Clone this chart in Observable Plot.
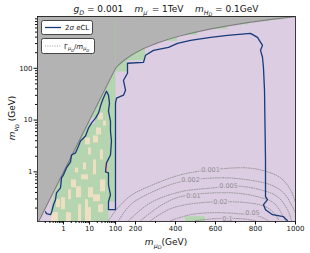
<!DOCTYPE html>
<html>
<head>
<meta charset="utf-8">
<script src="https://cdn.jsdelivr.net/npm/d3@7"></script>
<script src="https://cdn.jsdelivr.net/npm/@observablehq/plot@0.6"></script>
<style>
  html, body { margin: 0; padding: 0; background: #fff; }
  #chart svg { display: block; }
</style>
</head>
<body>
<div id="chart"></div>
<script>
// ---------------- data (GeV) ----------------
const xTickValues = [1, 10, 100, 200, 400, 600, 800, 1000];
const xMinorValues = [0.2,0.3,0.4,0.5,0.6,0.7,0.8,0.9,2,3,4,5,6,7,8,9,20,30,40,50,60,70,80,90,300,500,700,900];
const yTickValues = [1, 10, 100];
const yMinorValues = [0.2,0.3,0.4,0.5,0.6,0.7,0.8,0.9,2,3,4,5,6,7,8,9,20,30,40,50,60,70,80,90,200,300,400,500,600,700,800,900];

// kinematic boundary m_nu = m_mu (grey excluded region above it)
const grayX = [0.11, 1, 10, 100, 110, 120, 135, 150, 175, 200, 235, 270, 310, 360, 420, 490, 570, 660, 760, 870, 1000];
const grayY = [0.11, 1, 10, 100, 110, 120, 135, 150, 175, 200, 235, 270, 310, 360, 420, 490, 570, 660, 760, 870, 1000];

// green scan region (left band)
const greenX = [0.377, 0.316, 0.377, 0.588, 100, 100, 53.7, 53.7];
const greenY = [0.105, 0.186, 0.29, 0.588, 100, 0.265, 0.265, 0.105];
// green wedges just below the boundary
const stripX1 = [100, 160, 340, 440, 580, 710, 810, 880];
const stripX2 = [160, 250, 410, 510, 660, 770, 870, 940];
const stripY1 = [85, 140, 330, 430, 560, 690, 790, 860];
// isolated green cell at the bottom
const lowGreenX = [450, 550];
const lowGreenY = [0.105, 0.136];

// beige cells inside the green band
const beigeX1 = [0.345,0.838,2.03,3.16,3.78,1.30,9.15,14.2,9.15,4.93,26.5,5.88,22.2,2.89,22.2,18.6,14.2,7.02,34.5,9.15,14.2,1.56,0.538,7.02,26.5];
const beigeX2 = [0.642,1.19,3.16,4.93,4.93,2.03,14.2,26.5,11.9,9.15,41.2,7.67,34.5,3.78,34.5,29.0,22.2,10.9,45.0,11.9,18.6,2.03,0.767,9.15,34.5];
const beigeY1 = [0.105,0.186,0.492,0.316,0.105,0.105,0.316,0.265,0.105,0.702,0.412,1.09,0.163,0.957,10,5.15,3.61,3.31,7.67,2.12,0.876,0.29,0.203,0.105,1.70];
const beigeY2 = [0.163,0.316,0.702,0.515,0.232,0.163,0.492,0.361,0.203,0.876,0.702,1.49,0.232,1.19,13.6,7.02,4.92,4.51,9.57,2.90,1.70,0.45,0.290,0.290,2.65];
// small pink and lavender cells
const pinkX = [41.2, 53.7], pinkY = [0.957, 1.49];
const holeX = [10.9, 17.0], holeY = [8.3, 10.9];

// 2 sigma eCL contour
const eclX = [0.203,0.222,0.316,0.345,0.413,0.492,0.538,0.767,0.838,1.0,1.30,1.86,2.03,2.89,3.78,4.51,7.02,9.15,11.9,17.0,22.2,26.5,31.6,41.2,45.0,53.7,58.7,53.7,64.1,64.1,70.0,64.1,45.0,41.2,53.7,53.7,64.1,53.7,53.7,100,100,105,140,150,140,160,160,240,250,290,340,365,410,475,575,660,775,810,835,825,835,840,845,850,850,860,840,850,885,940,960];
const eclY = [0.170,0.156,0.149,0.163,0.232,0.290,0.394,0.492,0.767,0.876,1.19,1.56,2.12,2.32,3.16,3.95,4.92,7.02,8.75,10.9,13.6,18.6,24.2,33.0,36.1,30.3,21.2,14.9,9.57,6.14,3.95,2.12,1.49,1.0,0.957,0.562,0.361,0.265,0.186,0.186,21.2,26.5,30.3,37.8,58.7,80.1,125,130,178,222,243,253,303,345,395,431,471,395,277,222,163,100,37.8,1.70,0.331,0.290,0.232,0.186,0.149,0.136,0.114];

// Gamma/m contours
const levelNames = ["0.001","0.002","0.005","0.01","0.02","0.05","0.1"];
const w001X = [53.7,100,175,275,425,575,760,860,925,975,1000];
const w001Y = [0.114,0.178,0.345,0.538,0.876,1.09,1.19,1.0,0.767,0.451,0.253];
const w002X = [115,175,275,425,625,760,875,940,985,1000];
const w002Y = [0.114,0.232,0.394,0.642,0.767,0.702,0.562,0.394,0.212,0.156];
const w005X = [165,275,425,590,690,825,910,960,980];
const w005Y = [0.114,0.253,0.412,0.492,0.538,0.451,0.331,0.186,0.114];
const w01X = [225,325,425,675,810,890,940,950];
const w01Y = [0.114,0.222,0.331,0.394,0.331,0.253,0.136,0.114];
const w02X = [275,375,525,760,860,910,915];
const w02Y = [0.114,0.194,0.253,0.253,0.203,0.130,0.114];
const w05X = [375,475,590,710,810,865];
const w05Y = [0.114,0.149,0.163,0.156,0.142,0.114];
const w1X = [500,600,725,800];
const w1Y = [0.114,0.125,0.125,0.114];
const labelX = [575, 475, 665, 490, 625, 785, 660];
const labelY = [1.09, 0.702, 0.538, 0.345, 0.265, 0.163, 0.125];

// ---------------- helpers ----------------
// broken x axis: log up to 100 GeV, linear from 100 to 1000 GeV
const xu = v => v <= 100 ? Math.log10(v) : 2 + (v - 100) / 130;
const idx = a => a.map((_, i) => i);
const pts = (xs, ys) => xs.map((x, i) => ({x: xu(x), y: ys[i]}));

const cLav = "#ddcde3", cGreen = "#b5d5b0", cBeige = "#ecdfc2", cGray = "#b3b3b3",
      cGrayLine = "#808080", cBlue = "#173a78", cDot = "#8e8e8e", cPink = "#f1b5ac";

const levelXs = [w001X, w002X, w005X, w01X, w02X, w05X, w1X];
const levelYs = [w001Y, w002Y, w005Y, w01Y, w02Y, w05Y, w1Y];
const widthRows = levelNames.flatMap((lv, k) => levelXs[k].map((x, i) => ({lv, x: xu(x), y: levelYs[k][i]})));

const chart = Plot.plot({
  width: 310, height: 253,
  marginLeft: 37, marginRight: 15, marginTop: 16, marginBottom: 32,
  x: {type: "linear", domain: [xu(0.1), xu(1000)]},
  y: {type: "log", domain: [0.11, 1000]},
  style: {fontFamily: "'DejaVu Sans', sans-serif", fontSize: "7px", background: "white", color: "#111"},
  marks: [
    Plot.frame({fill: cLav, stroke: "none"}),
    Plot.line(pts(greenX, greenY), {x: "x", y: "y", fill: cGreen, stroke: "none", clip: true}),
    Plot.rect(idx(stripX1), {x1: i => xu(stripX1[i]), x2: i => xu(stripX2[i]), y1: i => stripY1[i], y2: () => 1000, fill: cGreen, clip: true}),
    Plot.rect([0], {x1: () => xu(lowGreenX[0]), x2: () => xu(lowGreenX[1]), y1: () => lowGreenY[0], y2: () => lowGreenY[1], fill: cGreen, clip: true}),
    Plot.rect(idx(beigeX1), {x1: i => xu(beigeX1[i]), x2: i => xu(beigeX2[i]), y1: i => beigeY1[i], y2: i => beigeY2[i], fill: cBeige, clip: true}),
    Plot.rect([0], {x1: () => xu(pinkX[0]), x2: () => xu(pinkX[1]), y1: () => pinkY[0], y2: () => pinkY[1], fill: cPink}),
    Plot.rect([0], {x1: () => xu(holeX[0]), x2: () => xu(holeX[1]), y1: () => holeY[0], y2: () => holeY[1], fill: cLav}),
    Plot.areaY(idx(grayX), {x: i => xu(grayX[i]), y1: i => grayY[i], y2: () => 1000, fill: cGray, clip: true}),
    Plot.ruleX([100], {x: d => xu(d), y1: () => 100, y2: () => 1000, stroke: "#a9c7a5", strokeWidth: 0.8, strokeOpacity: 0.7}),
    Plot.line(idx(grayX), {x: i => xu(grayX[i]), y: i => grayY[i], stroke: cGrayLine, strokeWidth: 1.2, clip: true}),
    Plot.line(widthRows, {x: "x", y: "y", z: "lv", stroke: cDot, strokeWidth: 0.9, strokeDasharray: "1,1.4", curve: "catmull-rom", clip: true}),
    Plot.text(idx(levelNames), {x: i => xu(labelX[i]), y: i => labelY[i], text: i => levelNames[i], fill: cDot, stroke: cLav, strokeWidth: 2.5, paintOrder: "stroke", fontSize: 6.5}),
    Plot.line(idx(eclX), {x: i => xu(eclX[i]), y: i => eclY[i], stroke: cBlue, strokeWidth: 1.3, strokeLinejoin: "round", clip: true}),
    Plot.frame({stroke: "#111", strokeWidth: 0.8}),
    Plot.axisX({ticks: xTickValues.map(xu), tickSize: 3.5, tickPadding: 1.5, tickFormat: d => String(xTickValues.find(v => Math.abs(xu(v) - d) < 1e-9)), label: null, fontSize: 7}),
    Plot.axisX({ticks: xMinorValues.map(xu), tickSize: 2, tickFormat: () => "", label: null}),
    Plot.axisY({ticks: yTickValues, tickSize: 3.5, tickPadding: 1.5, tickFormat: d => String(d), label: null, fontSize: 7}),
    Plot.axisY({ticks: yMinorValues, tickSize: 2, tickFormat: () => "", label: null})
  ]
});

document.getElementById("chart").appendChild(chart);

// ---------------- rich text: title, axis labels, legends ----------------
const svg = d3.select(chart);
function rich(sel, parts, size) {
  let cur = 0;
  parts.forEach(([s, lvl, it]) => {
    const off = [0, size * 0.28, size * 0.48][lvl];
    const fs = [size, size * 0.7, size * 0.55][lvl];
    sel.append("tspan").attr("dy", (off - cur).toFixed(2)).attr("font-size", fs)
       .attr("font-style", it ? "italic" : "normal").text(s);
    cur = off;
  });
}
const titleParts = [["g",0,1],["D",1,1],[" = 0.001    ",0,0],["m",0,1],["μ′",1,1],[" = 1TeV    ",0,0],["m",0,1],["H",1,1],["D",2,1],[" = 0.1GeV",0,0]];
const xLabelParts = [["m",0,1],["μ",1,1],["D",2,1],["(GeV)",0,0]];
const yLabelParts = [["m",0,1],["ν",1,1],["D",2,1],[" (GeV)",0,0]];
const legend1Parts = [["2",0,0],["σ",0,1],[" eCL",0,0]];
const legend2Parts = [["Γ",0,0],["μ",1,1],["D",2,1],["/",0,0],["m",0,1],["μ",1,1],["D",2,1]];

const txt = (x, y, anchor, size) => svg.append("text").attr("x", x).attr("y", y)
  .attr("text-anchor", anchor).attr("fill", "#111").style("white-space", "pre")
  .attr("font-family", "'DejaVu Sans', sans-serif").attr("font-size", size);

txt(166, 12, "middle", 9).call(rich, titleParts, 9);
txt(166, 245, "middle", 9).call(rich, xLabelParts, 9);
txt(0, 0, "middle", 9).attr("transform", "translate(15,118) rotate(-90)").call(rich, yLabelParts, 9);

svg.append("rect").attr("x", 41.5).attr("y", 20.5).attr("width", 51).attr("height", 14).attr("rx", 2)
   .attr("fill", "white").attr("stroke", "#222").attr("stroke-width", 0.8);
svg.append("line").attr("x1", 45).attr("x2", 61).attr("y1", 27.5).attr("y2", 27.5).attr("stroke", cBlue).attr("stroke-width", 1.3);
txt(65, 30, "start", 7).call(rich, legend1Parts, 7);

svg.append("rect").attr("x", 41.5).attr("y", 38.5).attr("width", 53).attr("height", 15).attr("rx", 2)
   .attr("fill", "white").attr("stroke", "#222").attr("stroke-width", 0.8);
svg.append("line").attr("x1", 45).attr("x2", 61).attr("y1", 46).attr("y2", 46).attr("stroke", cDot).attr("stroke-width", 0.9).attr("stroke-dasharray", "1,1.4");
txt(64, 48.5, "start", 7).call(rich, legend2Parts, 7);
</script>
</body>
</html>
